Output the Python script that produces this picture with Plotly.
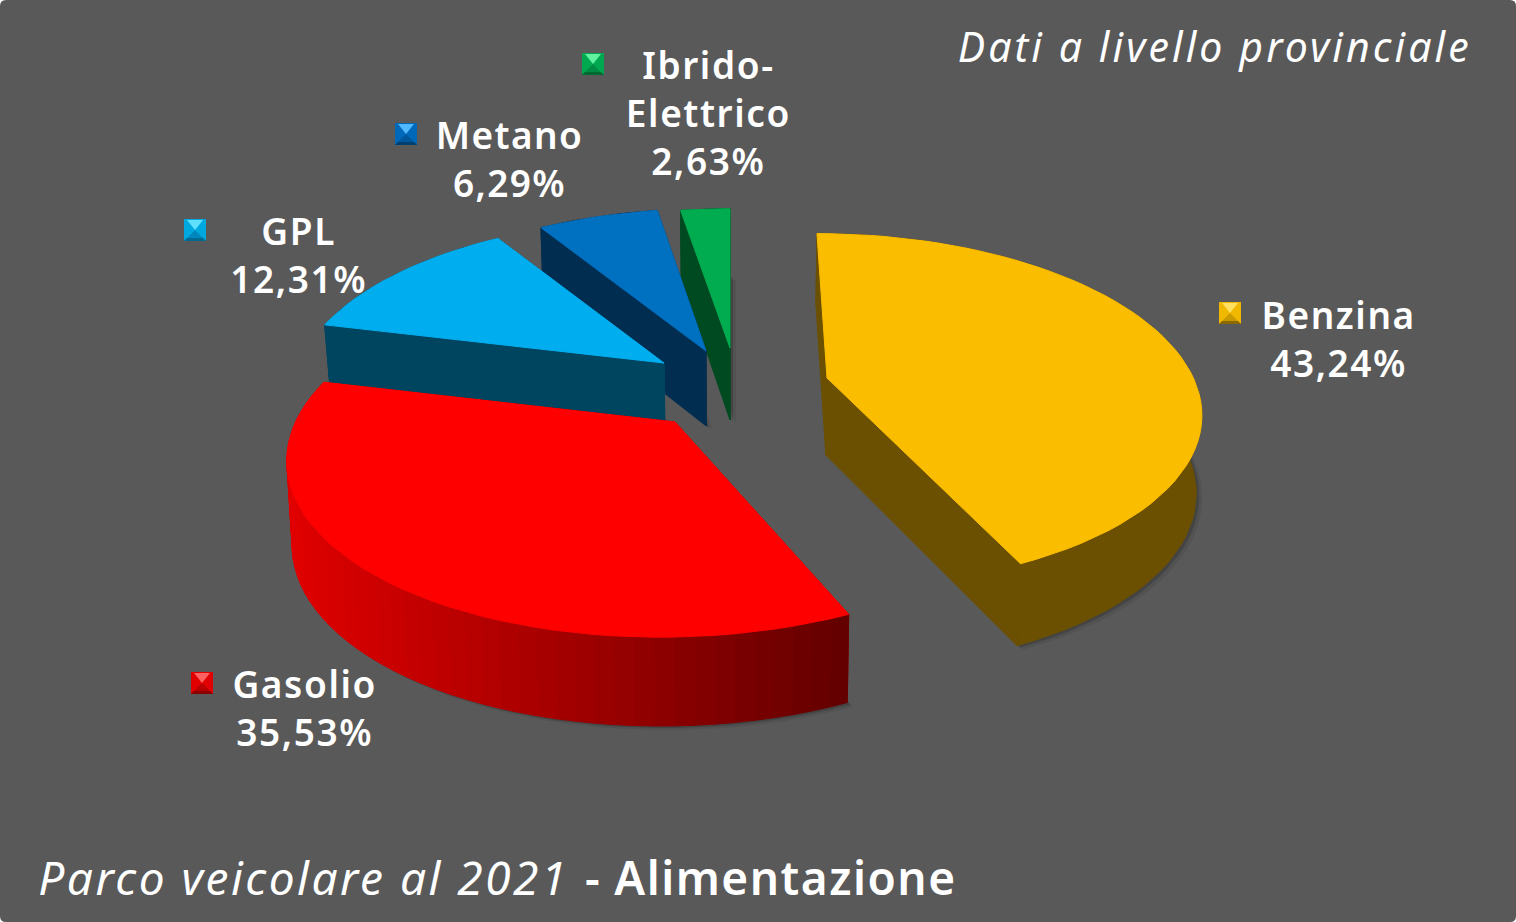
import math
import plotly.graph_objects as go

# --- data ---
names = ["Benzina", "Gasolio", "GPL", "Metano", "Ibrido-<br>Elettrico"]
values = [43.24, 35.53, 12.31, 6.29, 2.63]
top_colors = ["#FBBD00", "#FF0000", "#00AEEF", "#0070C0", "#00AC4F"]
side_colors = ["#6A5000", "#A00000", "#004560", "#002D50", "#004A22"]
key_colors = [("#FFE060", "#F0B800", "#C89A00", "#8A6A00"), ("#FF6060", "#E00000", "#B80000", "#8A0000"),
              ("#60E0FF", "#00A8E0", "#0088BC", "#006A90"), ("#50B8FF", "#0068B8", "#00569A", "#004070"),
              ("#60F0A0", "#00A850", "#008C42", "#006A30")]

# --- per-slice layout of the exploded pie (pixel frame) ---
apex = [(827, 378), (675, 422), (664, 363), (706, 351), (730, 348)]
scale = [0.985, 1.02, 0.98, 0.97, 0.95]
skew = [-12, 12, 3, 2, 0]
depth = [77, 83, 58, 75, 72]
key_pos = [(1230, 313), (202, 683), (195, 230), (406, 134), (593, 64)]
label_pos = [(1338, 338), (304, 707), (298, 254), (509, 158), (708, 112)]
paint_order = [4, 3, 2, 0, 1]

W, H = 1516, 922
A, D, K = 372.0, 173.0, 0.18
FONT = "Noto Sans"


def top_pt(i, th):
    x, y = math.sin(th), math.cos(th)
    w = 1 + K * y
    s = scale[i]
    return apex[i][0] + s * (A * x + skew[i] * y) / w, apex[i][1] - s * D * y / w


def bot_pt(i, th):
    X, Y = top_pt(i, th)
    y = math.cos(th)
    return X - 0.012 * (X - 730), Y + depth[i] * (1 - 0.07 * y)


def bot_apex(i):
    X, Y = apex[i]
    return X - 0.012 * (X - 730), Y + depth[i]


def poly(fig, pts, fill, line=None):
    xs = [p[0] for p in pts] + [pts[0][0]]
    ys = [p[1] for p in pts] + [pts[0][1]]
    fig.add_trace(go.Scatter(x=xs, y=ys, mode="lines", fill="toself", fillcolor=fill,
                             line=dict(color=line or "rgba(0,0,0,0)", width=1 if line else 0),
                             hoverinfo="skip", showlegend=False))


def mix(c1, c2, t):
    return "rgb(%d,%d,%d)" % tuple(c1[j] + (c2[j] - c1[j]) * t for j in range(3))


fig = go.Figure()

total = sum(values)
bounds = [0.0]
for v in values:
    bounds.append(bounds[-1] + v / total * 2 * math.pi)

for i in paint_order:
    a0, a1 = bounds[i], bounds[i + 1]
    n = max(8, int((a1 - a0) / math.radians(2.5)))
    ths = [a0 + (a1 - a0) * t / n for t in range(n + 1)]
    tops = [top_pt(i, t) for t in ths]
    bots = [bot_pt(i, t) for t in ths]
    ta, ba = apex[i], bot_apex(i)
    # soft drop shadow
    for off, alpha in ((6, 0.08), (3, 0.16)):
        poly(fig, [(x + off, y + off * 0.7) for x, y in [ba] + bots], "rgba(0,0,0,%.2f)" % alpha)
    # radial faces
    poly(fig, [ta, tops[0], bots[0], ba], side_colors[i], side_colors[i])
    poly(fig, [ta, tops[-1], bots[-1], ba], side_colors[i], side_colors[i])
    # rim
    if i == 1:
        for s in range(n):
            t = (tops[s][0] + tops[s + 1][0]) / 2
            f = min(1, max(0, (t - 290) / (850 - 290)))
            col = mix((225, 0, 0), (98, 0, 0), f)
            poly(fig, [tops[s], tops[s + 1], bots[s + 1], bots[s]], col, col)
    else:
        poly(fig, tops + bots[::-1], side_colors[i], side_colors[i])
    # top
    poly(fig, [ta] + tops, top_colors[i], top_colors[i])

# legend keys and labels
ann = []
for i in range(len(values)):
    cx, cy = key_pos[i]
    r = 11
    li, mid, low, dk = key_colors[i]
    poly(fig, [(cx - r, cy - r), (cx + r, cy - r), (cx + r, cy + r), (cx - r, cy + r)], mid)
    poly(fig, [(cx - r + 3, cy - r + 1), (cx + r - 3, cy - r + 1), (cx, cy)], li)
    poly(fig, [(cx - r, cy + r), (cx + r, cy + r), (cx, cy)], low)
    poly(fig, [(cx - r, cy + r), (cx + r, cy + r), (cx + r - 3, cy + r - 3), (cx - r + 3, cy + r - 3)], dk)
    pct = f"{values[i]:.2f}".replace(".", ",") + "%"
    ann.append(dict(x=label_pos[i][0], y=label_pos[i][1], text=f"{names[i]}<br>{pct}",
                    showarrow=False, xanchor="center", yanchor="middle", align="center",
                    font=dict(family=FONT, size=37, color="white", weight=600)))

ann.append(dict(x=1215, y=46, text="<i>Dati a livello provinciale</i>", showarrow=False,
                xanchor="center", yanchor="middle", font=dict(family=FONT, size=41, color="white")))
ann.append(dict(x=303, y=877, text="<i>Parco veicolare al 2021</i>", showarrow=False,
                xanchor="center", yanchor="middle", font=dict(family=FONT, size=46, color="white")))
ann.append(dict(x=592, y=877, text="-", showarrow=False,
                xanchor="center", yanchor="middle", font=dict(family=FONT, size=46, color="white", weight=600)))
ann.append(dict(x=785, y=877, text="Alimentazione", showarrow=False,
                xanchor="center", yanchor="middle", font=dict(family=FONT, size=46, color="white", weight=600)))

fig.update_layout(
    width=W, height=H, margin=dict(l=0, r=0, t=0, b=0),
    paper_bgcolor="white", plot_bgcolor="rgba(0,0,0,0)", showlegend=False,
    xaxis=dict(range=[0, W], visible=False, fixedrange=True),
    yaxis=dict(range=[H, 0], visible=False, fixedrange=True),
    annotations=ann,
    shapes=[dict(type="path", layer="below", line=dict(width=0), fillcolor="#595959",
                 path=f"M 6 0 L {W-6} 0 Q {W} 0 {W} 6 L {W} {H-6} Q {W} {H} {W-6} {H} L 6 {H} Q 0 {H} 0 {H-6} L 0 6 Q 0 0 6 0 Z")],
)
spacing_js = """
document.body.style.margin='0';
var sp=[1.6,1.6,1.6,1.4,1.6,3.1,2.5,0,1.5];
document.querySelectorAll('g.annotation text').forEach(function(t,i){t.style.letterSpacing=sp[i]+'px';});
"""
fig.write_html("out.html", config=dict(displayModeBar=False), post_script=spacing_js)
